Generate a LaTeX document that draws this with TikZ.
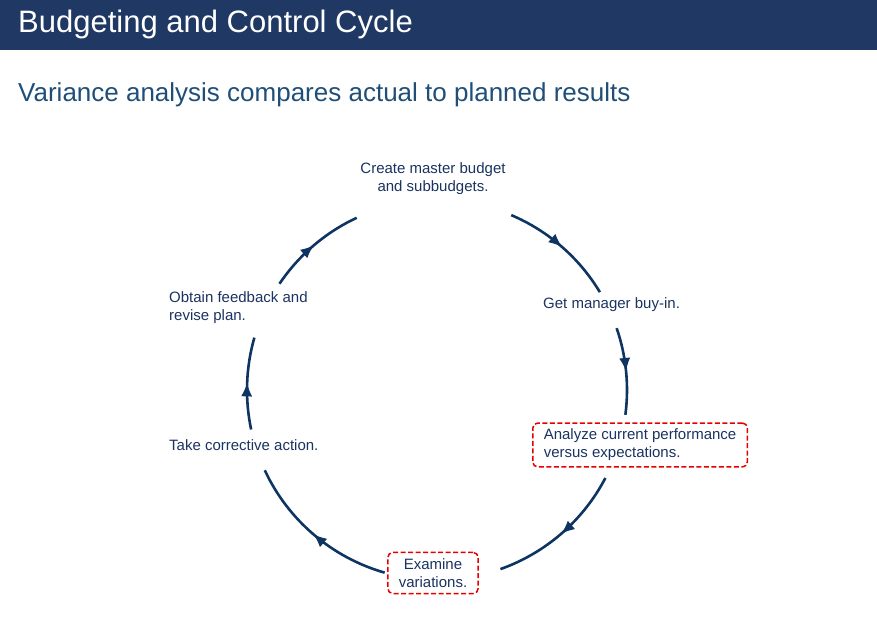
\documentclass[tikz,border=0pt]{standalone}
\usepackage{fontspec}
\setmainfont{Liberation Sans}
\usetikzlibrary{arrows.meta,decorations.markings}
\definecolor{navy}{HTML}{1F3864}
\definecolor{sub}{HTML}{1F4E79}
\definecolor{txt}{HTML}{1A3360}
\definecolor{cyc}{HTML}{0E3462}
\begin{document}
\begin{tikzpicture}[x=1pt,y=-1pt,
  lbl/.style={text=txt,font=\fontsize{15}{18}\selectfont,inner sep=0pt},
  hl/.style={draw=red!90!black,thick,rounded corners=5pt,inner xsep=11pt,inner ysep=6pt,dash pattern=on 5pt off 2.5pt,line width=1.5pt},
  seg/.style={draw=cyc,line width=2.6pt,postaction={decorate},
    decoration={markings,mark=at position 0.5 with {\arrow[line width=1pt]{Latex[length=13pt,width=11pt]}}}}]
\useasboundingbox (0,0) rectangle (877,620);
\fill[navy] (0,0) rectangle (877,50);
\node[anchor=west,text=white,font=\fontsize{31}{34}\selectfont,inner sep=0pt] (title) at (18,24) {Budgeting and Control Cycle};
\node[anchor=west,text=sub,font=\fontsize{26}{30}\selectfont,inner sep=0pt] (subt) at (18,95) {Variance analysis compares actual to planned results};
\coordinate (c) at (437,390);
\def\R{190}
\foreach \a/\b in {-67/-31,-19/7.5,27.6/70.5,106/155,168/196,214/245}{
  \path[seg] (c) ++(\a:\R) arc[start angle=\a,end angle=\b,radius=\R];
}
\node[lbl,align=center] (n1) at (433,179) {Create master budget\\and subbudgets.};
\node[lbl,anchor=west] (n2) at (543,305) {Get manager buy-in.};
\node[lbl,hl,align=left,anchor=west] (n3) at (532,445) {Analyze current performance\\versus expectations.};
\node[lbl,hl,align=center] (n4) at (433,573) {Examine\\variations.};
\node[lbl,anchor=west] (n5) at (169,445) {Take corrective action.};
\node[lbl,anchor=west,align=left] (n6) at (169,308) {Obtain feedback and\\revise plan.};
\end{tikzpicture}
\end{document}
